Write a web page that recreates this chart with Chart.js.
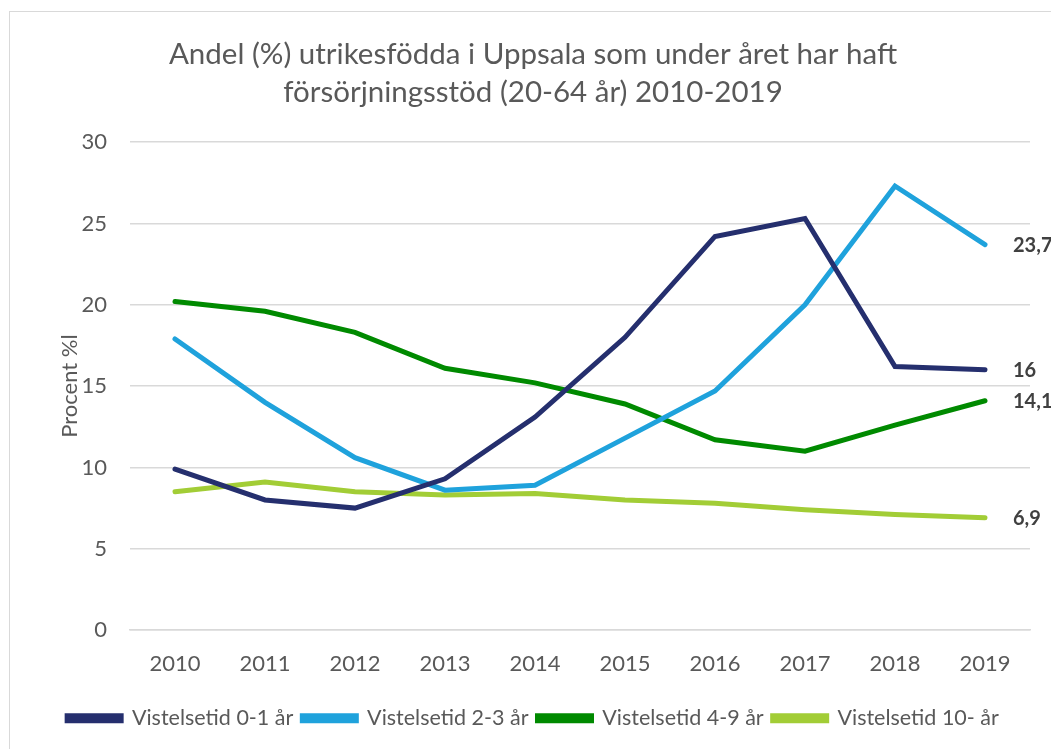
<!DOCTYPE html>
<html>
<head>
<meta charset="utf-8">
<script src="https://cdn.jsdelivr.net/npm/chart.js@4.4.0/dist/chart.umd.min.js"></script>
<style>
  html, body { margin: 0; padding: 0; background: #fff; overflow: hidden; }
  #wrap { position: absolute; left: 0; top: 0; width: 1051px; height: 749px; }
  #frame { position: absolute; left: 9px; top: 11px; width: 1100px; height: 800px; border: 1.5px solid #d9d9d9; box-sizing: border-box; pointer-events: none; }
</style>
</head>
<body>
<div id="frame"></div>
<div id="wrap"><canvas id="c" width="1051" height="749"></canvas></div>
<script>
const titleLines = ["Andel (%) utrikesfödda i Uppsala som under året har haft", "försörjningsstöd (20-64 år) 2010-2019"];
const yAxisTitle = "Procent %l";
const years = ["2010","2011","2012","2013","2014","2015","2016","2017","2018","2019"];
const seriesNames = ["Vistelsetid 0-1 år","Vistelsetid 2-3 år","Vistelsetid 4-9 år","Vistelsetid 10- år"];
const stay01  = [9.9, 8.0, 7.5, 9.3, 13.1, 18.0, 24.2, 25.3, 16.2, 16];
const stay23  = [17.9, 14.0, 10.6, 8.6, 8.9, 11.8, 14.7, 20.0, 27.3, 23.7];
const stay49  = [20.2, 19.6, 18.3, 16.1, 15.2, 13.9, 11.7, 11.0, 12.6, 14.1];
const stay10  = [8.5, 9.1, 8.5, 8.3, 8.4, 8.0, 7.8, 7.4, 7.1, 6.9];
const colors = ["#252f6e", "#1fa2dc", "#008a00", "#a2cd36"];

const FONT = "Lato, 'Open Sans', sans-serif";

const endLabels = {
  id: 'endLabels',
  afterDatasetsDraw(chart) {
    const ctx = chart.ctx;
    ctx.save();
    ctx.font = "bold 20px " + FONT;
    ctx.fillStyle = "#404040";
    ctx.textBaseline = "middle";
    ctx.textAlign = "left";
    chart.data.datasets.forEach((ds, i) => {
      const meta = chart.getDatasetMeta(i);
      const last = meta.data[meta.data.length - 1];
      const v = ds.data[ds.data.length - 1];
      ctx.fillText(String(v).replace('.', ','), last.x + 28, last.y + 1);
    });
    ctx.restore();
  }
};

const datasets = [stay01, stay23, stay49, stay10].map((d, i) => ({
  label: seriesNames[i],
  data: d,
  borderColor: colors[i],
  backgroundColor: colors[i],
  borderWidth: 5,
  pointRadius: 0,
  tension: 0,
  borderCapStyle: 'round',
  borderJoinStyle: 'miter',
  fill: false
}));

new Chart(document.getElementById('c'), {
  type: 'line',
  data: { labels: years, datasets },
  plugins: [endLabels],
  options: {
    responsive: false,
    animation: false,
    layout: { padding: { left: 36, right: 21, top: 0, bottom: 10 } },
    plugins: {
      title: {
        display: true,
        text: titleLines,
        color: "#595959",
        font: { family: FONT, size: 29.5, weight: 'normal', lineHeight: 1.29 },
        padding: { top: 35, bottom: 31 }
      },
      legend: {
        display: true,
        position: 'bottom',
        labels: {
          color: "#595959",
          font: { family: FONT, size: 21.5 },
          boxWidth: 54,
          boxHeight: 5,
          padding: 9
        }
      },
      tooltip: { enabled: false }
    },
    scales: {
      x: {
        offset: true,
        grid: { display: false, drawTicks: false },
        border: { display: true, color: "#d9d9d9", width: 1.5 },
        ticks: { color: "#595959", font: { family: FONT, size: 22 }, padding: 21 }
      },
      y: {
        min: 0, max: 30,
        ticks: { stepSize: 5, color: "#595959", font: { family: FONT, size: 22 }, padding: 23 },
        grid: { color: "#d9d9d9", lineWidth: 1.5, drawTicks: false },
        border: { display: false },
        title: { display: true, text: yAxisTitle, color: "#595959", font: { family: FONT, size: 22, lineHeight: 1.2 }, padding: { top: 21, bottom: 0 } },
        afterFit(scale) { scale.width = 94; }
      }
    }
  }
});
</script>
</body>
</html>
